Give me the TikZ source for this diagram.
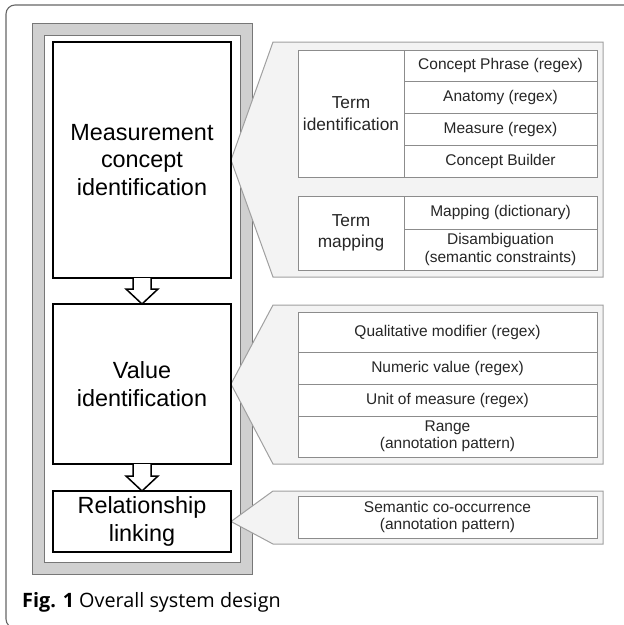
\documentclass[tikz,border=0pt]{standalone}
\usepackage{fontspec}
\setmainfont{Liberation Sans}
\newfontfamily\capfont{Open Sans}
\usetikzlibrary{positioning,calc,backgrounds}

\definecolor{framegray}{HTML}{D0D0D0}
\definecolor{edgegray}{HTML}{777777}
\definecolor{cellgray}{HTML}{8C8C8C}
\definecolor{calloutfill}{HTML}{F3F3F3}
\definecolor{calloutgray}{HTML}{A0A0A0}

\begin{document}
\begin{tikzpicture}[x=1pt, y=-1pt,
          stage/.style   = {draw, line width=2.2pt, fill=white, minimum width=178pt, text width=170pt,
                            align=center, inner sep=0pt, outer sep=0pt,
                            font=\fontsize{23.4}{27.5}\selectfont},
          cell/.style    = {draw=cellgray, line width=1pt, fill=white, align=center, inner sep=0pt,
                            outer sep=0pt, text=black!85, font=\fontsize{15.5}{17.5}\selectfont},
          head/.style    = {cell, minimum width=106pt, font=\fontsize{17.3}{21.5}\selectfont},
          item/.style    = {cell, minimum width=193pt},
          wide/.style    = {cell, minimum width=299pt},
          pane/.style    = {inner sep=0pt, outer sep=0pt, minimum width=330pt},
          callout/.style = {fill=calloutfill, draw=calloutgray, line width=1pt},
          hollow/.style  = {draw, line width=1.5pt, fill=white}
        ]
        \useasboundingbox (0,0) rectangle (624,625);

        % --- pipeline stages
        \node[stage, minimum height=236pt] (meas) at (142,160)   {Measurement\\concept\\identification};
        \node[stage, minimum height=160pt] (val)  at (142,384)   {Value\\identification};
        \node[stage, minimum height=61pt]  (rel)  at (142,521.5) {Relationship\\linking};

        % --- panes for the detail tables
        \node[pane, minimum height=235pt] (measP) at (438,159.5) {};
        \node[pane, minimum height=159pt] (valP)  at (438,384.5) {};
        \node[pane, minimum height=53pt]  (relP)  at (438,517.5) {};

        \begin{pgfonlayer}{background}
          % outer frame and grey column
          \draw[rounded corners=9pt, draw=black!60, line width=1.1pt] (6,5) rectangle (660,628);
          \draw[fill=framegray, draw=edgegray, line width=1pt] (32,23) rectangle (252,574);
          \draw[fill=white, draw=edgegray, line width=1pt] (44,35) rectangle (240,562);

          % callouts
          \draw[callout] (meas.east) -- (measP.north west) -- (measP.north east)
                         -- (measP.south east) -- (measP.south west) -- cycle;
          \draw[callout] (val.east) -- (valP.north west) -- (valP.north east)
                         -- (valP.south east) -- (valP.south west) -- cycle;
          \draw[callout] (rel.east) -- (relP.north west) -- (relP.north east)
                         -- (relP.south east) -- (relP.south west) -- cycle;
        \end{pgfonlayer}

        % --- hollow arrows between stages
        \draw[hollow] ($(meas.south)+(-9,0)$) |- ($(val.north)+(-16,-15)$) -- (val.north)
                      -- ($(val.north)+(16,-15)$) -| ($(meas.south)+(9,0)$);
        \draw[hollow] ($(val.south)+(-9,0)$) |- ($(rel.north)+(-16,-15)$) -- (rel.north)
                      -- ($(rel.north)+(16,-15)$) -| ($(val.south)+(9,0)$);

        % --- term identification
        \node[head, minimum height=127pt] (tid) at (351,113.5) {Term\\identification};
        \node[item, minimum height=31.75pt, anchor=north west] (phr) at (tid.north east) {Concept Phrase (regex)};
        \node[item, minimum height=31.75pt, below=0pt of phr] (ana) {Anatomy (regex)};
        \node[item, minimum height=31.75pt, below=0pt of ana] (mea) {Measure (regex)};
        \node[item, minimum height=31.75pt, below=0pt of mea] (bld) {Concept Builder};

        % --- term mapping
        \node[head, minimum height=74pt] (tmap) at (351,233) {Term\\mapping};
        \node[item, minimum height=33pt, anchor=north west] (dict) at (tmap.north east) {Mapping (dictionary)};
        \node[item, minimum height=41pt, below=0pt of dict] (dis) {Disambiguation\\(semantic constraints)};

        % --- value rules
        \node[wide, minimum height=40pt] (qual) at (447.5,332) {Qualitative modifier (regex)};
        \node[wide, minimum height=32pt, below=0pt of qual] (num)  {Numeric value (regex)};
        \node[wide, minimum height=32pt, below=0pt of num]  (unit) {Unit of measure (regex)};
        \node[wide, minimum height=41pt, below=0pt of unit] (rng)  {Range\\(annotation pattern)};

        % --- relationship rule
        \node[wide, minimum height=42pt] (cooc) at (447.5,517) {Semantic co-occurrence\\(annotation pattern)};

        % --- caption
        \node[anchor=base west, inner sep=0pt, font=\capfont\fontsize{19.8}{23}\selectfont] (cap) at (22,607)
          {\textbf{Fig. 1} Overall system design};
    \end{tikzpicture}
\end{document}
